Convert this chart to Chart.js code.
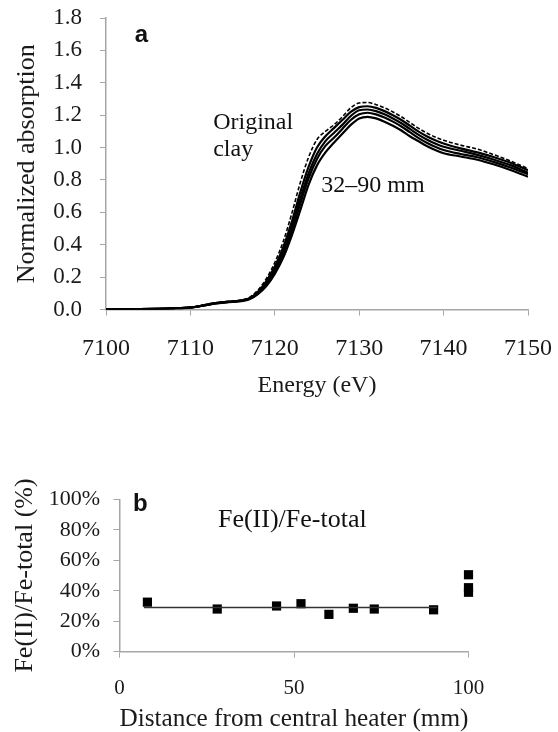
<!DOCTYPE html>
<html>
<head>
<meta charset="utf-8">
<script src="https://cdn.jsdelivr.net/npm/chart.js@4.4.1/dist/chart.umd.min.js"></script>
<style>
body { margin: 0; background: #fff; overflow: hidden; }
#wrapA { position: absolute; left: 0; top: 0; }
#wrapB { position: absolute; left: 0; top: 440px; }
</style>
</head>
<body>
<div id="wrapA"><canvas id="chartA" width="558" height="410"></canvas></div>
<div id="wrapB"><canvas id="chartB" width="558" height="292"></canvas></div>
<script>
// panel a: Fe K-edge XANES
var energy = [7100, 7102, 7104, 7106, 7108, 7110, 7111, 7112, 7113, 7114, 7115, 7116, 7117, 7118, 7119, 7120,
	7121, 7122, 7123, 7124, 7125, 7126, 7127, 7128, 7129, 7130, 7131, 7132, 7133, 7134, 7135, 7136,
	7137, 7138, 7139, 7140, 7142, 7144, 7146, 7148, 7150];

var originalClay = [0, 0.001, 0.002, 0.004, 0.007, 0.014, 0.022, 0.033, 0.042, 0.048, 0.052, 0.058, 0.075, 0.12, 0.19, 0.29,
	0.42, 0.59, 0.78, 0.94, 1.05, 1.10, 1.14, 1.19, 1.245, 1.275, 1.278, 1.265, 1.245, 1.22, 1.19, 1.155,
	1.12, 1.09, 1.065, 1.045, 1.015, 0.99, 0.955, 0.915, 0.87];
var sample1 = [0, 0.001, 0.002, 0.004, 0.007, 0.013, 0.02, 0.031, 0.04, 0.046, 0.05, 0.055, 0.07, 0.11, 0.175, 0.265,
	0.385, 0.54, 0.72, 0.88, 1.0, 1.07, 1.12, 1.17, 1.22, 1.25, 1.255, 1.245, 1.225, 1.2, 1.17, 1.135,
	1.1, 1.07, 1.045, 1.025, 0.995, 0.97, 0.94, 0.905, 0.86];
var sample2 = [0, 0.001, 0.002, 0.004, 0.007, 0.013, 0.02, 0.03, 0.039, 0.045, 0.049, 0.054, 0.068, 0.105, 0.165, 0.25,
	0.36, 0.51, 0.68, 0.84, 0.96, 1.04, 1.09, 1.14, 1.195, 1.23, 1.235, 1.225, 1.205, 1.18, 1.15, 1.115,
	1.08, 1.05, 1.025, 1.005, 0.98, 0.955, 0.925, 0.89, 0.845];
var sample3 = [0, 0.001, 0.002, 0.004, 0.007, 0.012, 0.019, 0.029, 0.038, 0.044, 0.048, 0.053, 0.066, 0.1, 0.155, 0.235,
	0.34, 0.48, 0.65, 0.81, 0.93, 1.01, 1.06, 1.115, 1.17, 1.205, 1.215, 1.205, 1.185, 1.16, 1.13, 1.095,
	1.06, 1.03, 1.005, 0.985, 0.96, 0.94, 0.91, 0.875, 0.835];
var sample4 = [0, 0.001, 0.002, 0.004, 0.007, 0.012, 0.019, 0.028, 0.037, 0.043, 0.047, 0.052, 0.063, 0.095, 0.145, 0.22,
	0.32, 0.455, 0.61, 0.77, 0.89, 0.97, 1.03, 1.085, 1.14, 1.18, 1.19, 1.18, 1.16, 1.135, 1.105, 1.07,
	1.04, 1.01, 0.985, 0.965, 0.945, 0.925, 0.895, 0.86, 0.82];

// panel b: Fe(II)/Fe-total vs distance
var distance = [8, 28, 45, 52, 60, 67, 73, 90, 100, 100, 100];
var feRatio = [32.5, 28, 30, 31.5, 24.5, 28.5, 28, 27.5, 50.5, 42, 39];
var trendX = [7, 91];
var trendY = [29, 29];

// text notes, placed in data units
var notesA = [
	{ text: "a", x: 7103.4, y: 1.654, bold: true },
	{ text: "Original", x: 7112.7, y: 1.117 },
	{ text: "clay", x: 7112.7, y: 0.95 },
	{ text: "32\u201390 mm", x: 7125.5, y: 0.723 }
];
var notesB = [
	{ text: "b", x: 3.9, y: 92.5, bold: true },
	{ text: "Fe(II)/Fe-total", x: 28.2, y: 81.8 }
];

var serif = "'Liberation Serif', 'Times New Roman', serif";
var axisGrey = '#a6a6a6';
Chart.defaults.font.family = serif;
Chart.defaults.color = '#1a1a1a';

function pairs(xs, ys) {
	var out = [];
	for (var i in xs) {
		out.push({ x: xs[i], y: ys[i] });
	}
	return out;
}

function notesPlugin(notes, size) {
	return {
		id: 'notes',
		afterDatasetsDraw: function(chart) {
			var ctx = chart.ctx;
			ctx.save();
			ctx.fillStyle = '#111';
			ctx.textAlign = 'left';
			ctx.textBaseline = 'alphabetic';
			for (var i in notes) {
				var n = notes[i];
				ctx.font = n.bold ? "bold 24px 'Liberation Sans', Arial, sans-serif" : size + "px " + serif;
				ctx.fillText(n.text, chart.scales.x.getPixelForValue(n.x), chart.scales.y.getPixelForValue(n.y));
			}
			ctx.restore();
		}
	};
}

// keep the axis sizes fixed and drop the label overhang padding
function fixY(w) {
	return function(s) { s.width = w; s.paddingTop = 0; s.paddingBottom = 0; };
}
function fixX(h) {
	return function(s) { s.height = h; s.paddingLeft = 0; s.paddingRight = 0; };
}

function lineSet(values, dashed) {
	return {
		data: pairs(energy, values),
		borderColor: '#000',
		borderWidth: dashed ? 1.6 : 2.2,
		borderDash: dashed ? [4, 2] : [],
		pointRadius: 0,
		fill: false,
		cubicInterpolationMode: 'monotone'
	};
}

var chartA = new Chart(document.getElementById('chartA'), {
	type: 'line',
	data: {
		datasets: [
			lineSet(sample4, false),
			lineSet(sample3, false),
			lineSet(sample2, false),
			lineSet(sample1, false),
			lineSet(originalClay, true)
		]
	},
	options: {
		responsive: false,
		animation: false,
		layout: { padding: { top: 18, right: 30, left: 0, bottom: 0 } },
		plugins: { legend: { display: false }, tooltip: { enabled: false } },
		scales: {
			x: {
				type: 'linear', min: 7100, max: 7150,
				ticks: { stepSize: 10, font: { size: 24 }, padding: 19, maxRotation: 0, callback: function(v) { return String(v); } },
				grid: { drawOnChartArea: false, tickLength: 6, color: axisGrey },
				border: { color: axisGrey, width: 1.5 },
				title: { display: true, text: 'Energy (eV)', font: { size: 24, lineHeight: 1 }, padding: { top: 0, bottom: 12 } },
				afterFit: fixX(100.5)
			},
			y: {
				min: 0, max: 1.8,
				ticks: { stepSize: 0.2, font: { size: 23 }, padding: 18, callback: function(v) { return v.toFixed(1); } },
				grid: { drawOnChartArea: false, tickLength: 6, color: axisGrey },
				border: { color: axisGrey, width: 1.5 },
				title: { display: true, text: 'Normalized absorption', font: { size: 26, lineHeight: 1 }, padding: { top: 14, bottom: 0 } },
				afterFit: fixY(106)
			}
		}
	},
	plugins: [notesPlugin(notesA, 24)]
});

var chartB = new Chart(document.getElementById('chartB'), {
	type: 'scatter',
	data: {
		datasets: [
			{
				type: 'line',
				data: pairs(trendX, trendY),
				borderColor: '#333',
				borderWidth: 1.5,
				pointRadius: 0
			},
			{
				data: pairs(distance, feRatio),
				pointStyle: 'rect',
				pointRadius: 6.5,
				backgroundColor: '#000',
				borderColor: '#000',
				borderWidth: 0,
				clip: false
			}
		]
	},
	options: {
		responsive: false,
		animation: false,
		layout: { padding: { top: 59.3, right: 89.5, left: 0, bottom: 0 } },
		plugins: { legend: { display: false }, tooltip: { enabled: false } },
		scales: {
			x: {
				type: 'linear', min: 0, max: 100,
				ticks: { stepSize: 50, font: { size: 21 }, padding: 17.7, maxRotation: 0 },
				grid: { drawOnChartArea: false, tickLength: 6, color: axisGrey },
				border: { color: axisGrey, width: 1.5 },
				title: { display: true, text: 'Distance from central heater (mm)', font: { size: 26, lineHeight: 1 }, padding: { top: 0, bottom: 0 } },
				afterFit: fixX(80.3)
			},
			y: {
				min: 0, max: 100,
				ticks: { stepSize: 20, font: { size: 22 }, padding: 13.5, callback: function(v) { return v + '%'; } },
				grid: { drawOnChartArea: false, tickLength: 6, color: axisGrey },
				border: { color: axisGrey, width: 1.5 },
				title: { display: true, text: 'Fe(II)/Fe-total (%)', font: { size: 26, lineHeight: 1 }, padding: { top: 12, bottom: 0 } },
				afterFit: fixY(119.5)
			}
		}
	},
	plugins: [notesPlugin(notesB, 26)]
});
</script>
</body>
</html>
